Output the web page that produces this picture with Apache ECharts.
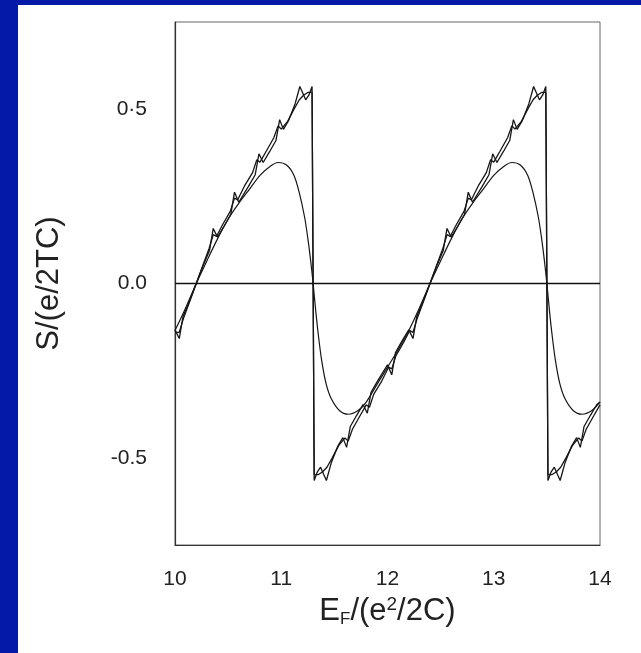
<!DOCTYPE html>
<html>
<head>
<meta charset="utf-8">
<script src="https://cdn.jsdelivr.net/npm/echarts@6/dist/echarts.min.js"></script>
<style>
html,body{margin:0;padding:0;background:#0319a8;width:641px;height:653px;overflow:hidden;}
#panel{position:absolute;left:18px;top:5px;width:623px;height:648px;background:#ffffff;}
#chart{position:absolute;left:0;top:0;width:641px;height:653px;}
</style>
</head>
<body>
<div id="panel"></div>
<div id="chart"></div>
<script>
// x-axis ticks and y-axis tick labels
const xTicks = [10, 11, 12, 13, 14];
const yTickLabels = {"0.5": "0·5", "0": "0.0", "-0.5": "-0.5"};

// Curve A: lowest temperature (strong fine structure)
const xA = [10.00,10.04,10.075,10.14,10.20,
  10.26,10.325,10.36,10.40,10.46,10.525,10.56,10.60,10.69,10.755,10.79,10.83,10.89,10.95,10.985,11.02,11.07,11.13,11.175,11.20,11.23,11.26,11.29,
  11.31,11.34,11.37,11.40,11.425,11.47,11.53,11.58,11.615,11.65,11.71,11.77,11.81,11.845,11.91,12.00,12.04,12.075,12.14,12.20,12.24,12.275,12.34,12.40,
  12.46,12.525,12.56,12.60,12.66,12.725,12.76,12.80,12.89,12.955,12.99,13.03,13.09,13.15,13.185,13.22,13.27,13.33,13.375,13.40,13.43,13.46,13.49,
  13.51,13.54,13.57,13.60,13.625,13.67,13.73,13.78,13.815,13.85,13.91,13.97,14.00];
const yA = [-0.133,-0.158,-0.095,-0.048,0.0,
  0.048,0.095,0.158,0.133,0.163,0.198,0.262,0.233,0.278,0.312,0.372,0.347,0.378,0.410,0.470,0.442,0.468,0.515,0.565,0.548,0.527,0.540,0.565,
  -0.565,-0.540,-0.527,-0.548,-0.565,-0.515,-0.468,-0.442,-0.470,-0.410,-0.378,-0.347,-0.372,-0.312,-0.278,-0.233,-0.262,-0.198,-0.163,-0.133,-0.158,-0.095,-0.048,0.0,
  0.048,0.095,0.158,0.133,0.163,0.198,0.262,0.233,0.278,0.312,0.372,0.347,0.378,0.410,0.470,0.442,0.468,0.515,0.565,0.548,0.527,0.540,0.565,
  -0.565,-0.540,-0.527,-0.548,-0.565,-0.515,-0.468,-0.442,-0.470,-0.410,-0.378,-0.347,-0.340];

// Curve B: intermediate temperature (weak fine structure)
const xB = [10.00,10.01,10.04,10.08,10.14,10.20,
  10.26,10.32,10.36,10.39,10.45,10.52,10.56,10.59,10.66,10.73,10.77,10.80,10.86,10.93,10.97,11.00,11.06,11.12,11.17,11.21,11.25,11.29,
  11.31,11.35,11.39,11.43,11.48,11.54,11.60,11.63,11.67,11.74,11.80,11.83,11.87,11.94,12.01,12.04,12.08,12.15,12.21,12.24,12.28,12.34,12.40,
  12.46,12.52,12.56,12.59,12.65,12.72,12.76,12.79,12.86,12.93,12.97,13.00,13.06,13.13,13.17,13.20,13.26,13.32,13.37,13.41,13.45,13.49,
  13.51,13.55,13.59,13.63,13.68,13.74,13.80,13.83,13.87,13.94,14.00];
const yB = [-0.140,-0.135,-0.140,-0.100,-0.050,0.0,
  0.050,0.100,0.140,0.135,0.170,0.207,0.245,0.240,0.283,0.318,0.355,0.348,0.380,0.418,0.452,0.443,0.465,0.500,0.527,0.540,0.548,0.548,
  -0.548,-0.548,-0.540,-0.527,-0.500,-0.465,-0.443,-0.452,-0.418,-0.380,-0.348,-0.355,-0.318,-0.283,-0.240,-0.245,-0.207,-0.170,-0.135,-0.140,-0.100,-0.050,0.0,
  0.050,0.100,0.140,0.135,0.170,0.207,0.245,0.240,0.283,0.318,0.355,0.348,0.380,0.418,0.452,0.443,0.465,0.500,0.527,0.540,0.548,0.548,
  -0.548,-0.548,-0.540,-0.527,-0.500,-0.465,-0.443,-0.452,-0.418,-0.380,-0.348];

// Curve C: highest temperature (smooth)
const xC = [10.00,10.10,10.20,
  10.30,10.40,10.50,10.60,10.70,10.80,10.90,10.97,11.05,11.12,11.17,11.22,11.25,11.275,11.30,
  11.325,11.35,11.38,11.42,11.47,11.55,11.63,11.72,11.80,11.90,12.00,12.10,12.20,12.30,12.40,
  12.50,12.60,12.70,12.80,12.90,13.00,13.10,13.17,13.25,13.32,13.37,13.42,13.45,13.475,13.50,
  13.525,13.55,13.58,13.62,13.67,13.75,13.83,13.92,14.00];
const yC = [-0.135,-0.070,0.0,
  0.065,0.128,0.185,0.230,0.270,0.310,0.337,0.347,0.340,0.310,0.260,0.190,0.130,0.070,0.0,
  -0.080,-0.150,-0.220,-0.285,-0.330,-0.365,-0.375,-0.365,-0.340,-0.290,-0.240,-0.190,-0.135,-0.070,0.0,
  0.065,0.128,0.185,0.230,0.270,0.310,0.337,0.347,0.340,0.310,0.260,0.190,0.130,0.070,0.0,
  -0.080,-0.150,-0.220,-0.285,-0.330,-0.365,-0.375,-0.365,-0.340];

const pairs = (xs, ys) => xs.map((x, i) => [x, ys[i]]);
const FONT = '"Liberation Sans", Arial, Helvetica, sans-serif';
const lineCol = '#161616';

const chart = echarts.init(document.getElementById('chart'), null, {renderer: 'canvas'});
chart.setOption({
  backgroundColor: 'transparent',
  animation: false,
  grid: {left: 175, right: 41, top: 22, bottom: 108, show: true, borderColor: '#666', borderWidth: 1},
  xAxis: {
    type: 'value', min: xTicks[0], max: xTicks[xTicks.length - 1], interval: 1,
    axisLine: {show: true, onZero: false, lineStyle: {color: '#333', width: 1.2}},
    axisTick: {show: false},
    splitLine: {show: false},
    axisLabel: {fontFamily: FONT, fontSize: 21, color: '#222', margin: 24},
    name: 'E{sub|F}/(e{sup|2}/2C)',
    nameLocation: 'middle', nameGap: 50,
    nameTextStyle: {fontFamily: FONT, fontSize: 31, color: '#222',
      rich: {sub: {fontSize: 17, verticalAlign: 'bottom', padding: [16, 0, 0, 0], fontFamily: FONT, color: '#222'},
             sup: {fontSize: 19, verticalAlign: 'top', padding: [0, 0, 9, 0], fontFamily: FONT, color: '#222'}}}
  },
  yAxis: {
    type: 'value', min: -0.75, max: 0.75, interval: 0.25,
    axisLine: {show: true, onZero: false, lineStyle: {color: '#333', width: 1.2}},
    axisTick: {show: false},
    splitLine: {show: false},
    axisLabel: {fontFamily: FONT, fontSize: 21, color: '#222', margin: 28,
      formatter: v => { const k = String(Math.round(v * 100) / 100); return yTickLabels[k] || ''; }},
    name: 'S/(e/2TC)',
    nameLocation: 'middle', nameGap: 110,
    nameTextStyle: {fontFamily: FONT, fontSize: 31, color: '#222'}
  },
  series: [
    {type: 'line', data: pairs(xA, yA), showSymbol: false, smooth: false,
     lineStyle: {color: lineCol, width: 1.3}},
    {type: 'line', data: pairs(xB, yB), showSymbol: false, smooth: false,
     lineStyle: {color: lineCol, width: 1.3}},
    {type: 'line', data: pairs(xC, yC), showSymbol: false, smooth: 0.3,
     lineStyle: {color: lineCol, width: 1.2},
     markLine: {silent: true, symbol: 'none', label: {show: false},
       lineStyle: {color: '#111', width: 1.3, type: 'solid'}, data: [{yAxis: 0}]}}
  ]
});
</script>
</body>
</html>
